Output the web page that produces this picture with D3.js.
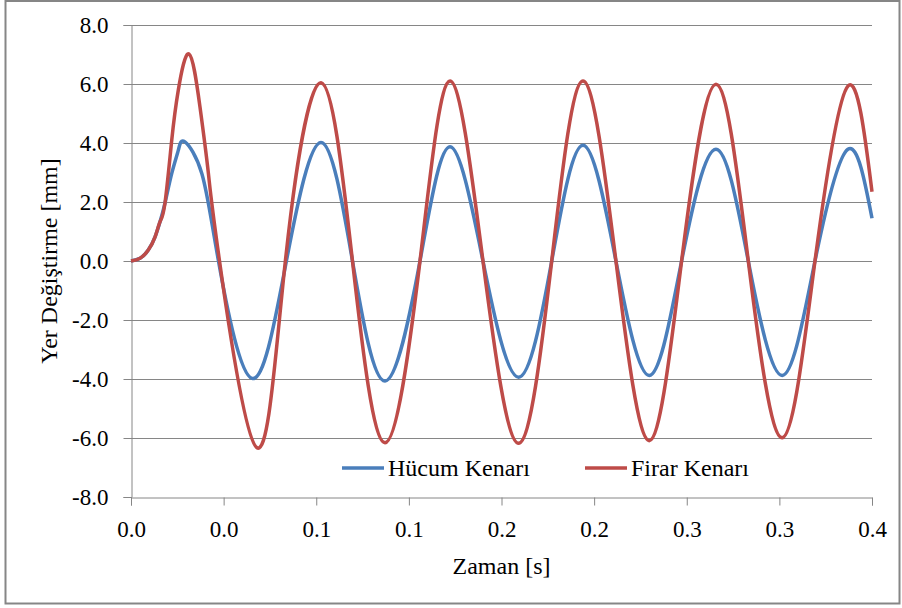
<!DOCTYPE html>
<html>
<head>
<meta charset="utf-8">
<script src="https://cdn.jsdelivr.net/npm/d3@7"></script>
<style>
  body { margin: 0; background: #fff; }
  svg text { font-family: "Liberation Serif", "Times New Roman", Tinos, "DejaVu Serif", serif; fill: #000; }
</style>
</head>
<body>
<div id="chart"></div>
<script>
// time [s], peaks / troughs / zero crossings
const hucumTime = [0, 0.0044, 0.0084, 0.0117, 0.0141, 0.0165, 0.0198, 0.0230, 0.0262, 0.0344, 0.0425,
    0.0588, 0.0755, 0.0923, 0.1076, 0.1234, 0.1404, 0.1550, 0.1710, 0.1883, 0.2044, 0.2196,
    0.2356, 0.2518, 0.2675, 0.2842, 0.2999, 0.3164, 0.3323, 0.3483, 0.3600];
const hucumValues = [0, 0.09, 0.37, 0.82, 1.33, 1.96, 2.97, 3.76, 4.04, 2.97, 0.0,
    -3.98, 0.0, 4.02, 0.0, -4.07, 0.0, 3.87, 0.0, -3.94, 0.0, 3.92,
    0.0, -3.88, 0.0, 3.79, 0.0, -3.88, 0.0, 3.79, 1.45];

const firarTime = [0, 0.0044, 0.0084, 0.0117, 0.0141, 0.0165, 0.0198, 0.0230, 0.0282, 0.0335, 0.0376, 0.0430,
    0.0612, 0.0750, 0.0923, 0.1076, 0.1234, 0.1404, 0.1550, 0.1710, 0.1883, 0.2044, 0.2196,
    0.2356, 0.2518, 0.2675, 0.2842, 0.2999, 0.3164, 0.3323, 0.3483, 0.3600];
const firarValues = [0, 0.09, 0.37, 0.82, 1.33, 1.96, 4.10, 5.80, 7.02, 5.23, 2.97, 0.0,
    -6.33, 0.0, 6.04, 0.0, -6.16, 0.0, 6.10, 0.0, -6.18, 0.0, 6.10,
    0.0, -6.09, 0.0, 5.99, 0.0, -5.99, 0.0, 5.93, 2.35];

const xTicks = [0, 0.045, 0.09, 0.135, 0.18, 0.225, 0.27, 0.315, 0.36];
const xTickLabels = ['0.0', '0.0', '0.1', '0.1', '0.2', '0.2', '0.3', '0.3', '0.4'];
const yTicks = [-8, -6, -4, -2, 0, 2, 4, 6, 8];
const yTickLabels = ['-8.0', '-6.0', '-4.0', '-2.0', '0.0', '2.0', '4.0', '6.0', '8.0'];

const seriesNames = ['Hücum Kenarı', 'Firar Kenarı'];
const seriesColors = ['#4A7EBB', '#BE4B48'];

const width = 902;
const height = 608;
const margin = {top: 25, right: 30, bottom: 111, left: 131};
const gridColor = '#868686';
const font = '"Liberation Serif", "Times New Roman", Tinos, "DejaVu Serif", serif';

const svg = d3.select('#chart').append('svg')
    .attr('width', width)
    .attr('height', height);

// outer chart border
svg.append('rect')
    .attr('x', 5.5)
    .attr('y', 1)
    .attr('width', 894)
    .attr('height', 602.5)
    .attr('fill', 'none')
    .attr('stroke', gridColor)
    .attr('stroke-width', 2);

const x = d3.scaleLinear()
    .domain([0, 0.36])
    .range([margin.left, width - margin.right]);

const y = d3.scaleLinear()
    .domain([-8, 8])
    .range([height - margin.bottom, margin.top]);

// horizontal gridlines
svg.append('g')
    .selectAll('line')
    .data(yTicks.filter(d => d !== -8))
    .join('line')
        .attr('x1', x(0))
        .attr('x2', x(0.36))
        .attr('y1', d => Math.round(y(d)) + 0.5)
        .attr('y2', d => Math.round(y(d)) + 0.5)
        .attr('stroke', gridColor)
        .attr('stroke-width', 1);

const xAxis = svg.append('g')
    .attr('transform', `translate(0, ${Math.round(y(-8)) + 0.5})`)
    .call(d3.axisBottom(x)
        .tickValues(xTicks)
        .tickSize(8)
        .tickPadding(10)
        .tickFormat((d, i) => xTickLabels[i]));

const yAxis = svg.append('g')
    .attr('transform', `translate(${Math.round(x(0)) + 0.5}, 0)`)
    .call(d3.axisLeft(y)
        .tickValues(yTicks)
        .tickSize(8)
        .tickPadding(15)
        .tickFormat((d, i) => yTickLabels[i]));

[xAxis, yAxis].forEach(ax => {
    ax.attr('font-family', font);
    ax.selectAll('path, line').attr('stroke', gridColor);
    ax.selectAll('text').style('font-size', '23px');
});
xAxis.selectAll('text').attr('dy', '0.95em');
yAxis.selectAll('text').attr('dy', '0.32em');

// axis titles
svg.append('text')
    .attr('x', (x(0) + x(0.36)) / 2)
    .attr('y', 574)
    .attr('text-anchor', 'middle')
    .style('font-size', '24px')
    .text('Zaman [s]');

svg.append('text')
    .attr('transform', `translate(57, ${y(0)}) rotate(-90)`)
    .attr('text-anchor', 'middle')
    .style('font-size', '24px')
    .text('Yer Değiştirme [mm]');

// the two lines
const line = d3.line()
    .x(d => x(d[0]))
    .y(d => y(d[1]))
    .curve(d3.curveNatural);

const series = [
    d3.zip(hucumTime, hucumValues),
    d3.zip(firarTime, firarValues)
];

svg.append('g')
    .selectAll('path')
    .data(series)
    .join('path')
        .attr('d', line)
        .attr('fill', 'none')
        .attr('stroke', (d, i) => seriesColors[i])
        .attr('stroke-width', 3.5)
        .attr('stroke-linejoin', 'round');

// legend
const legendX = [342, 585];
const legend = svg.append('g')
    .selectAll('g')
    .data(seriesNames)
    .join('g')
        .attr('transform', (d, i) => `translate(${legendX[i]}, 468)`);

legend.append('line')
    .attr('x1', 0)
    .attr('x2', 42)
    .attr('stroke', (d, i) => seriesColors[i])
    .attr('stroke-width', 3.5);

legend.append('text')
    .attr('x', 46)
    .attr('y', 0)
    .attr('dy', '0.35em')
    .style('font-size', '24px')
    .text(d => d);
</script>
</body>
</html>
